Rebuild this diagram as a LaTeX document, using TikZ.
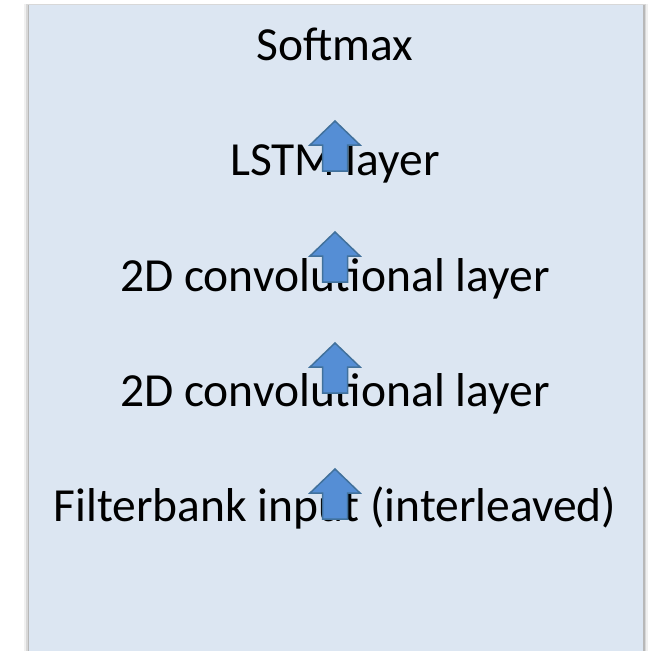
\documentclass[tikz,border=0pt]{standalone}
\usepackage{fontspec}
\setmainfont{Carlito}
\usepackage{xcolor}
\usepackage{tikz}
\usetikzlibrary{positioning, calc}
\definecolor{panelblue}{HTML}{DCE6F2}
\definecolor{arrowfill}{HTML}{558ED5}
\definecolor{arrowedge}{HTML}{41719C}

\tikzset{
  layer/.style={anchor=base, inner sep=0pt, font=\fontsize{47.5}{52}\selectfont},
  uparrow/.pic={
    \draw[fill=arrowfill, draw=arrowedge, line width=1.5pt, line join=miter]
      (0,0) -- (25,24) -- (12.5,24) -- (12.5,50) -- (-12.5,50) -- (-12.5,24) -- (-25,24) -- cycle;}
}

\begin{document}
\begin{tikzpicture}[x=1pt, y=-1pt]
    \useasboundingbox (0,0) rectangle (649,651);
    \fill[black, opacity=0.06] (24,3.5) rectangle (648,660);
    \fill[black, opacity=0.10] (26,4) rectangle (646,660);
    \fill[black, opacity=0.15] (27.5,4.5) rectangle (644.5,660);
    \fill[panelblue] (29,5) rectangle (643,660);

    \node[layer] (softmax) at (335,60) {Softmax};
    \node[layer] (lstm) at (335,175) {LSTM layer};
    \node[layer] (convA) at (335,291) {2D convolutional layer};
    \node[layer] (convB) at (335,406) {2D convolutional layer};
    \node[layer] (fbank) at (335,521) {Filterbank input (interleaved)};

    \pic at (335,121) {uparrow};
    \pic at (335,232) {uparrow};
    \pic at (335,343) {uparrow};
    \pic at (335,469) {uparrow};
\end{tikzpicture}
\end{document}
